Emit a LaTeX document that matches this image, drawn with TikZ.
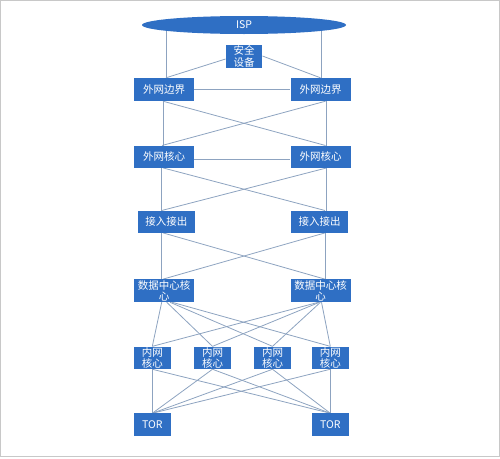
\documentclass[tikz,border=0pt]{standalone}
\usepackage{fontspec}
\setmainfont{Noto Sans CJK SC}
\usetikzlibrary{shapes.geometric,calc,backgrounds}
\definecolor{boxblue}{RGB}{47,111,196}
\definecolor{linkc}{RGB}{141,163,192}
\definecolor{framec}{RGB}{200,200,200}
\tikzset{
  box/.style={rectangle, fill=boxblue, text=white, inner sep=0pt, align=center,
    font=\fontsize{10.5}{11.5}\selectfont},
  wide/.style={box, minimum width=60pt, minimum height=23pt},
  narrow/.style={box, minimum width=36.5pt, minimum height=22.5pt},
  link/.style={draw=linkc, line width=0.8pt},
}
\begin{document}
\begin{tikzpicture}[x=1pt,y=-1pt]
\useasboundingbox (0,0) rectangle (500,458);
\draw[framec, line width=1pt] (0.5,0.5) rectangle (499,456.5);

\node[ellipse, fill=boxblue, text=white, inner sep=0pt, minimum width=204pt, minimum height=18pt,
  font=\fontsize{10.5}{11.5}\selectfont] (isp) at (244,25) {ISP};
\node[narrow, minimum height=23pt] (sec) at (244,56.5) {安全\\设备};
\node[wide] (bl) at (164,89.5) {外网边界};
\node[wide] (br) at (320.5,89.5) {外网边界};
\node[wide, minimum height=22pt] (cl) at (164,156.7) {外网核心};
\node[wide, minimum height=22pt] (cr) at (320.5,156.7) {外网核心};
\node[wide, minimum width=57pt, minimum height=22pt] (al) at (166.3,221.7) {接入接出};
\node[wide, minimum width=57pt, minimum height=22pt] (ar) at (319.7,221.7) {接入接出};
\node[wide, minimum height=22.7pt] (dl) at (164,290.7) {数据中心核\\心};
\node[wide, minimum height=22.7pt] (dr) at (320.5,290.7) {数据中心核\\心};
\node[narrow] (n1) at (152.3,357.8) {内网\\核心};
\node[narrow] (n2) at (212.5,357.8) {内网\\核心};
\node[narrow] (n3) at (272.5,357.8) {内网\\核心};
\node[narrow] (n4) at (330.3,357.8) {内网\\核心};
\node[narrow] (tl) at (152.3,424.7) {TOR};
\node[narrow] (tr) at (330.3,424.7) {TOR};

\begin{pgfonlayer}{background}
% ISP and security
\draw[link] ($(isp.center)+(-78,0)$) -- ($(bl.north)+(2,0)$);
\draw[link] ($(isp.center)+(77,0)$) -- ($(br.north)+(0.5,0)$);
\draw[link] ($(sec.west)+(0,2.5)$) -- ($(bl.north)+(2,0)$);
\draw[link] ($(sec.east)+(0,-0.5)$) -- ($(br.north)+(0,0)$);
\draw[link] (bl.east) -- (br.west);
% border to core
\draw[link] ($(bl.south)+(-1,0)$) -- ($(cl.north)+(-1,0)$);
\draw[link] ($(br.south)+(6,0)$) -- ($(cr.north)+(6,0)$);
\draw[link] ($(bl.south)+(-1,0)$) -- ($(cr.north)+(5,0)$);
\draw[link] ($(br.south)+(5,0)$) -- ($(cl.north)+(-2,0)$);
\draw[link] ($(cl.east)+(0,2.6)$) -- ($(cr.west)+(0,2.6)$);
% core to access
\draw[link] ($(cl.south)+(-2.3,0)$) -- ($(al.north)+(-4.6,0)$);
\draw[link] ($(cr.south)+(6.2,0)$) -- ($(ar.north)+(7,0)$);
\draw[link] ($(cl.south)+(-1,0)$) -- ($(ar.north)+(5.3,0)$);
\draw[link] ($(cr.south)+(6.2,0)$) -- ($(al.north)+(-4.6,0)$);
% access to dc
\draw[link] ($(al.south)+(-4.6,0)$) -- ($(dl.north)+(-2.3,0)$);
\draw[link] ($(ar.south)+(5.3,0)$) -- ($(dr.north)+(4.5,0)$);
\draw[link] ($(al.south)+(-3.3,0)$) -- ($(dr.north)+(4.5,0)$);
\draw[link] ($(ar.south)+(5.3,0)$) -- ($(dl.north)+(-1,0)$);
% dc to inner core
\foreach \n/\o in {n1/-2.3,n2/2.7,n3/6,n4/8}{
  \draw[link] ($(dl.south)+(\o,0)$) -- (\n.north);
}
\foreach \n/\o in {n1/-2,n2/-1,n3/0,n4/1}{
  \draw[link] ($(dr.south)+(\o,0)$) -- (\n.north);
}
% inner core to TOR
\foreach \n in {n1,n2,n3,n4}{
  \draw[link] (\n.south) -- (tl.north);
  \draw[link] (\n.south) -- (tr.north);
}
\end{pgfonlayer}
\end{tikzpicture}
\end{document}
